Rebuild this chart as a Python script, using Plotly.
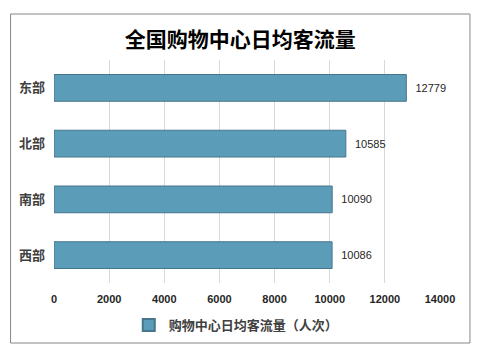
import plotly.graph_objects as go

categories = ["东部", "北部", "南部", "西部"]
values = [12779, 10585, 10090, 10086]
series_name = "购物中心日均客流量（人次）"
title_text = "全国购物中心日均客流量"
tick_vals = [0, 2000, 4000, 6000, 8000, 10000, 12000, 14000]
tick_text = [str(v) for v in tick_vals]

L, R, T, B = 53.5, 47, 60, 70
W, H = 487, 353
pw, ph = W - L - R, H - T - B

fig = go.Figure()
fig.add_trace(go.Bar(
    y=categories, x=values, orientation="h", name=series_name,
    marker=dict(color="#5b9db8", line=dict(color="#46768a", width=1)),
    width=0.48,
    texttemplate="  %{x:d}", textposition="outside",
    textfont=dict(family="Liberation Sans, Arial", size=11, color="#262626"),
    cliponaxis=False,
))

fig.update_layout(
    width=W, height=H,
    margin=dict(l=L, r=R, t=T, b=B),
    paper_bgcolor="white", plot_bgcolor="white",
    title=dict(text="<b>" + title_text + "</b>", x=(240 - L) / pw, xref="paper",
               xanchor="center", y=1 - 40 / H, yanchor="middle",
               font=dict(family="Noto Sans CJK SC", size=21, color="#000000")),
    xaxis=dict(range=[0, 14000], tickvals=tick_vals, ticktext=tick_text, showgrid=True,
               gridcolor="#d9d9d9", gridwidth=1, zeroline=False,
               showline=False, ticks="", ticklabelstandoff=8,
               tickfont=dict(family="Liberation Sans, Arial", size=11, color="#262626", weight="bold")),
    yaxis=dict(categoryorder="array", categoryarray=categories[::-1],
               showgrid=False, zeroline=False, showline=False, ticks="",
               ticklabelstandoff=8,
               tickfont=dict(family="Noto Sans CJK SC", size=13, color="#404040", weight="bold")),
    showlegend=True,
    legend=dict(orientation="h", x=(236 - L) / pw, xanchor="center",
                y=(H - B - 325) / ph, yanchor="middle",
                font=dict(family="Noto Sans CJK SC", size=13, color="#404040", weight="bold"),
                itemwidth=30, itemsizing="constant"),
    bargap=0.52,
)

fig.add_shape(type="rect", xref="paper", yref="paper",
              x0=(10 - L) / pw, x1=(470 - L) / pw,
              y0=(H - B - 343) / ph, y1=(H - B - 14) / ph,
              line=dict(color="#878787", width=1), fillcolor="rgba(0,0,0,0)", layer="below")

fig.write_html("out.html")
